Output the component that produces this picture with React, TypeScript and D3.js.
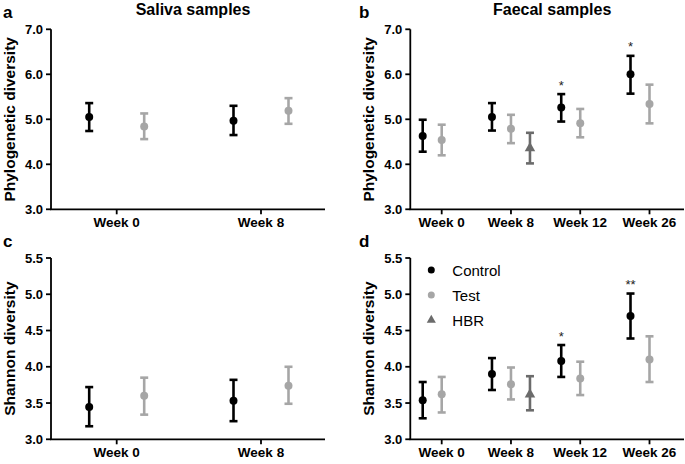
import React from "react";
import * as d3 from "d3";

// ---------- data ----------
const seriesNames = ["Control", "Test", "HBR"];
const seriesColors = ["#000000", "#a6a6a6", "#6b6b6b"];

const salivaWeeks = ["Week 0", "Week 8"];
const faecalWeeks = ["Week 0", "Week 8", "Week 12", "Week 26"];

type Row = [string, string, number, number, number]; // week, series, mean, lower, upper

const salivaPD: Row[] = [
  ["Week 0", "Control", 5.05, 4.74, 5.36],
  ["Week 0", "Test", 4.84, 4.56, 5.13],
  ["Week 8", "Control", 4.97, 4.65, 5.3],
  ["Week 8", "Test", 5.19, 4.9, 5.47],
];

const faecalPD: Row[] = [
  ["Week 0", "Control", 4.63, 4.28, 4.99],
  ["Week 0", "Test", 4.54, 4.2, 4.88],
  ["Week 8", "Control", 5.05, 4.75, 5.36],
  ["Week 8", "Test", 4.79, 4.47, 5.1],
  ["Week 8", "HBR", 4.36, 4.02, 4.7],
  ["Week 12", "Control", 5.26, 4.95, 5.56],
  ["Week 12", "Test", 4.91, 4.6, 5.23],
  ["Week 26", "Control", 6.0, 5.57, 6.41],
  ["Week 26", "Test", 5.34, 4.91, 5.77],
];

const salivaShannon: Row[] = [
  ["Week 0", "Control", 3.445, 3.18, 3.72],
  ["Week 0", "Test", 3.6, 3.34, 3.85],
  ["Week 8", "Control", 3.53, 3.25, 3.82],
  ["Week 8", "Test", 3.74, 3.49, 4.0],
];

const faecalShannon: Row[] = [
  ["Week 0", "Control", 3.54, 3.29, 3.79],
  ["Week 0", "Test", 3.62, 3.37, 3.86],
  ["Week 8", "Control", 3.9, 3.68, 4.12],
  ["Week 8", "Test", 3.76, 3.55, 3.99],
  ["Week 8", "HBR", 3.62, 3.4, 3.87],
  ["Week 12", "Control", 4.08, 3.86, 4.3],
  ["Week 12", "Test", 3.84, 3.61, 4.07],
  ["Week 26", "Control", 4.7, 4.39, 5.01],
  ["Week 26", "Test", 4.1, 3.79, 4.42],
];

const faecalPDSig: [string, string][] = [
  ["Week 12", "*"],
  ["Week 26", "*"],
];
const faecalShannonSig: [string, string][] = [
  ["Week 12", "*"],
  ["Week 26", "**"],
];

const pdTicks = [3, 4, 5, 6, 7];
const shannonTicks = [3, 3.5, 4, 4.5, 5, 5.5];

// ---------- drawing ----------
const FONT = "'Liberation Sans', Arial, Helvetica, sans-serif";

type PanelProps = {
  letter: string;
  title?: string;
  yTitle: string;
  axisX: number;
  xEnd: number;
  yTop: number;
  yBottom: number;
  tickRange: [number, number];
  offsets: Record<string, number>;
  weeks: string[];
  data: Row[];
  yTicks: number[];
  sig?: [string, string][];
  legend?: boolean;
};

function Panel(p: PanelProps) {
  const y = d3
    .scaleLinear()
    .domain([p.yTicks[0], p.yTicks[p.yTicks.length - 1]])
    .range([p.yBottom, p.yTop]);
  const x = d3.scalePoint<string>().domain(p.weeks).range(p.tickRange);
  const colorOf = d3.scaleOrdinal<string, string>().domain(seriesNames).range(seriesColors);
  const fmt = d3.format(".1f");
  const tri = d3.symbol().type(d3.symbolTriangle).size(48)();
  const triSmall = d3.symbol().type(d3.symbolTriangle).size(36)();
  const cap = 4;
  const plotMid = (p.yTop + p.yBottom) / 2;
  const letterX = p.axisX < 200 ? 3 : 359;
  const titleBaseY = p.axisX - 36;

  return (
    <g>
      <text x={letterX} y={p.yTop - 11} fontFamily={FONT} fontWeight="bold" fontSize={17}>
        {p.letter}
      </text>
      {p.title && (
        <text
          x={(p.axisX + p.xEnd) / 2 + 5}
          y={14.5}
          textAnchor="middle"
          fontFamily={FONT}
          fontWeight="bold"
          fontSize={16}
        >
          {p.title}
        </text>
      )}
      <text
        transform={`translate(${titleBaseY},${plotMid}) rotate(-90)`}
        textAnchor="middle"
        fontFamily={FONT}
        fontWeight="bold"
        fontSize={15.5}
      >
        {p.yTitle}
      </text>
      {/* y axis */}
      <line x1={p.axisX} x2={p.axisX} y1={p.yTop} y2={p.yBottom} stroke="#000" strokeWidth={1.8} />
      {p.yTicks.map((t) => (
        <g key={t}>
          <line x1={p.axisX - 5} x2={p.axisX} y1={y(t)} y2={y(t)} stroke="#000" strokeWidth={1.8} />
          <text
            x={p.axisX - 8}
            y={y(t) + 4.6}
            textAnchor="end"
            fontFamily={FONT}
            fontWeight="bold"
            fontSize={13}
          >
            {fmt(t)}
          </text>
        </g>
      ))}
      {/* x axis */}
      <line x1={p.axisX - 0.9} x2={p.xEnd} y1={p.yBottom} y2={p.yBottom} stroke="#000" strokeWidth={1.8} />
      {p.weeks.map((w) => (
        <g key={w}>
          <line x1={x(w)!} x2={x(w)!} y1={p.yBottom} y2={p.yBottom + 5} stroke="#000" strokeWidth={1.8} />
          <text
            x={x(w)!}
            y={p.yBottom + 18}
            textAnchor="middle"
            fontFamily={FONT}
            fontWeight="bold"
            fontSize={13.5}
          >
            {w}
          </text>
        </g>
      ))}
      {/* error bars + points */}
      {p.data.map(([w, s, m, lo, hi]) => {
        const cx = x(w)! + p.offsets[s];
        const c = colorOf(s);
        return (
          <g key={w + s}>
            <line x1={cx} x2={cx} y1={y(lo)} y2={y(hi)} stroke={c} strokeWidth={2.6} />
            <line x1={cx - cap} x2={cx + cap} y1={y(lo)} y2={y(lo)} stroke={c} strokeWidth={2.6} />
            <line x1={cx - cap} x2={cx + cap} y1={y(hi)} y2={y(hi)} stroke={c} strokeWidth={2.6} />
            {s === "HBR" ? (
              <path d={tri!} transform={`translate(${cx},${y(m)})`} fill={c} />
            ) : (
              <circle cx={cx} cy={y(m)} r={4} fill={c} />
            )}
          </g>
        );
      })}
      {/* significance */}
      {(p.sig || []).map(([w, label]) => {
        const row = p.data.find((r) => r[0] === w && r[1] === "Control")!;
        return (
          <text
            key={w}
            x={x(w)! + p.offsets["Control"]}
            y={y(row[4]) - 4.5}
            textAnchor="middle"
            fontFamily={FONT}
            fontSize={13}
            fill="#222"
          >
            {label}
          </text>
        );
      })}
      {p.legend &&
        seriesNames.map((s, i) => {
          const ly = p.yTop + 12 + i * 25;
          const lx = p.axisX + 21;
          return (
            <g key={s}>
              {s === "HBR" ? (
                <path d={triSmall!} transform={`translate(${lx},${ly})`} fill={colorOf(s)} />
              ) : (
                <circle cx={lx} cy={ly} r={3.5} fill={colorOf(s)} />
              )}
              <text x={lx + 21} y={ly + 6} fontFamily={FONT} fontSize={15}>
                {s}
              </text>
            </g>
          );
        })}
    </g>
  );
}

export default function App() {
  const leftOff = { Control: -27.5, Test: 27.5 };
  const rightOff = { Control: -19, Test: 0, HBR: 19 };
  return (
    <svg
      width={685}
      height={464}
      style={{ position: "absolute", left: 0, top: 0, background: "#fff" }}
    >
      <rect width={685} height={464} fill="#fff" />
      <Panel
        letter="a"
        title="Saliva samples"
        yTitle="Phylogenetic diversity"
        axisX={51}
        xEnd={325}
        yTop={29.3}
        yBottom={209.3}
        tickRange={[116.7, 261]}
        offsets={leftOff}
        weeks={salivaWeeks}
        data={salivaPD}
        yTicks={pdTicks}
      />
      <Panel
        letter="b"
        title="Faecal samples"
        yTitle="Phylogenetic diversity"
        axisX={410.3}
        xEnd={684}
        yTop={29.3}
        yBottom={209.3}
        tickRange={[441.7, 649.5]}
        offsets={rightOff}
        weeks={faecalWeeks}
        data={faecalPD}
        yTicks={pdTicks}
        sig={faecalPDSig}
      />
      <Panel
        letter="c"
        yTitle="Shannon diversity"
        axisX={51}
        xEnd={325}
        yTop={258}
        yBottom={439.3}
        tickRange={[116.7, 261]}
        offsets={leftOff}
        weeks={salivaWeeks}
        data={salivaShannon}
        yTicks={shannonTicks}
      />
      <Panel
        letter="d"
        yTitle="Shannon diversity"
        axisX={410.3}
        xEnd={684}
        yTop={258}
        yBottom={439.3}
        tickRange={[441.7, 649.5]}
        offsets={rightOff}
        weeks={faecalWeeks}
        data={faecalShannon}
        yTicks={shannonTicks}
        sig={faecalShannonSig}
        legend
      />
    </svg>
  );
}
